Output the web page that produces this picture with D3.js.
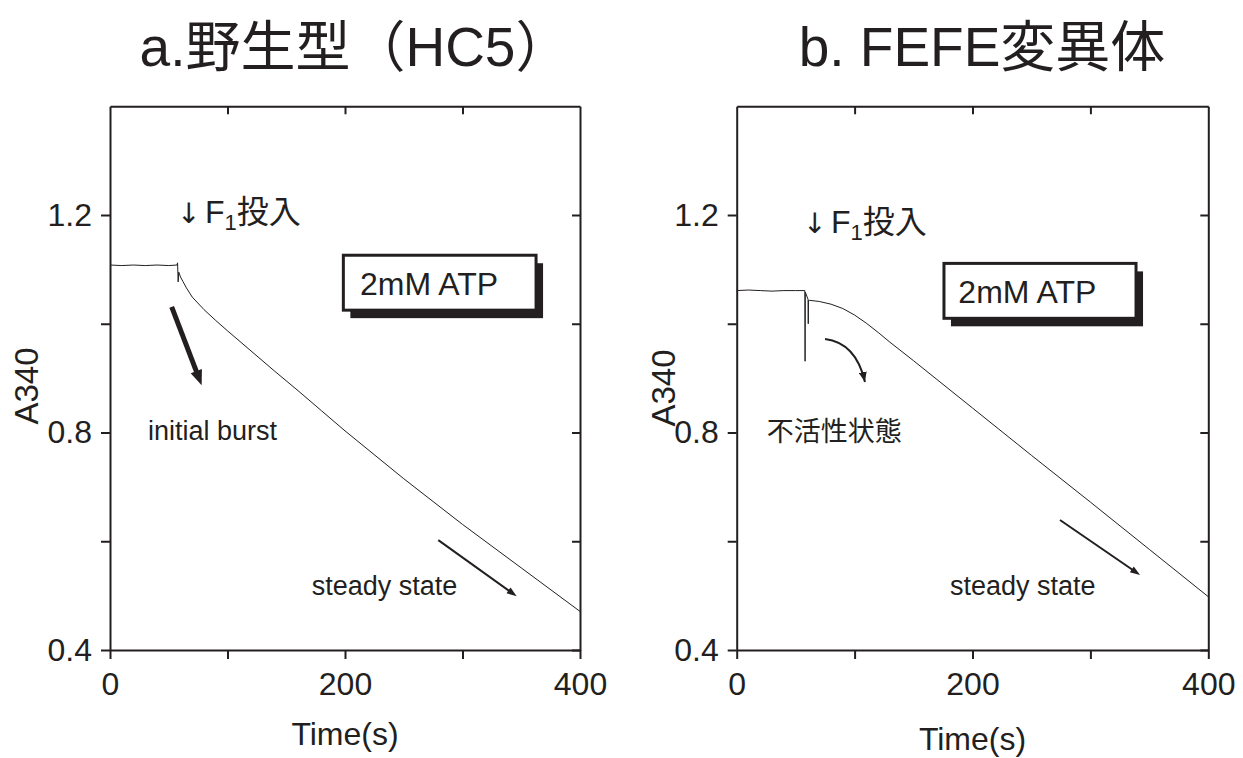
<!DOCTYPE html>
<html lang="ja">
<head>
<meta charset="UTF-8">
<script src="https://cdn.jsdelivr.net/npm/d3@7"></script>
<style>
  body { margin: 0; background: #fff; }
  svg text { font-family: "Liberation Sans", Arial, "Noto Sans CJK JP", sans-serif; fill: #231f20; }
  .axis path, .axis line { stroke: #231f20; stroke-width: 2; }
</style>
<title>A340</title>
</head>
<body>
<svg width="1243" height="758"></svg>
<script>
// a. wild type (HC5)
const timeWT = [0, 10, 20, 30, 40, 50, 57, 57.5, 58, 58.5, 60, 62, 65, 70, 80, 90, 100, 120, 140, 160, 180, 200, 250, 300, 350, 400];
const a340WT = [1.108, 1.107, 1.108, 1.107, 1.108, 1.107, 1.108, 1.112, 1.077, 1.095, 1.086, 1.078, 1.066, 1.049, 1.026, 1.006, 0.987, 0.950, 0.913, 0.877, 0.840, 0.803, 0.715, 0.631, 0.551, 0.471];

// b. FEFE mutant
const timeFEFE = [0, 10, 20, 30, 40, 50, 57.8, 58, 58.2, 60.5, 60.7, 60.9, 62, 70, 80, 90, 100, 110, 120, 130, 150, 200, 250, 300, 350, 400];
const a340FEFE = [1.061, 1.062, 1.061, 1.060, 1.061, 1.061, 1.061, 0.931, 1.058, 1.045, 1.000, 1.043, 1.043, 1.041, 1.036, 1.028, 1.016, 1.001, 0.984, 0.966, 0.932, 0.845, 0.758, 0.672, 0.585, 0.498];

const xTicks = [0, 100, 200, 300, 400];
const xTickLabels = [0, 200, 400];
const yTicks = [0.4, 0.6, 0.8, 1.0, 1.2];
const yTickLabels = [0.4, 0.8, 1.2];
const panelTitles = ['a.野生型（HC5）', 'b. FEFE変異体'];

const ink = '#231f20';
const svg = d3.select('svg');

// annotations, placed in data units (t, A340)
const panels = [
  {
    title: panelTitles[0], time: timeWT, a340: a340WT,
    left: 110, right: 580, titleX: 355, xTitleY: 745, yTitle: [37.5, 386],
    f1: [59.6, 1.185],
    box: [198.6, 362.6, 1.126, 1.025], boxText: [212.8, 1.053],
    arrows: [{ from: [52.5, 1.031], to: [78.0, 0.887], w: 5, hl: 15, hw: 12 },
             { from: [279.4, 0.602], to: [346.1, 0.499], w: 2, hl: 10, hw: 7 }],
    labels: [{ text: 'initial burst', at: [32.3, 0.786] }, { text: 'steady state', at: [171.7, 0.501] }]
  },
  {
    title: panelTitles[1], time: timeFEFE, a340: a340FEFE,
    left: 736.7, right: 1208.3, titleX: 982, xTitleY: 750, yTitle: [674.5, 388],
    f1: [58.8, 1.167],
    box: [175.8, 338.7, 1.111, 1.010], boxText: [188, 1.038],
    curve: { from: [74.9, 0.972], ctrl: [101.2, 0.965], to: [108.8, 0.893] },
    arrows: [{ from: [274.2, 0.639], to: [342.1, 0.538], w: 2, hl: 10, hw: 7 }],
    labels: [{ text: '不活性状態', at: [25.4, 0.784] }, { text: 'steady state', at: [180.9, 0.501] }]
  }
];

const plotTop = 106.25, plotBottom = 650;

svg.append('defs').append('marker')
  .attr('id', 'head').attr('markerUnits', 'userSpaceOnUse')
  .attr('viewBox', '0 0 10 8').attr('refX', 10).attr('refY', 4)
  .attr('markerWidth', 10).attr('markerHeight', 8).attr('orient', 'auto')
  .append('path').attr('d', 'M0,0L10,4L0,8Z').attr('fill', ink);

function drawArrow(g, x1, y1, x2, y2, w, hl, hw) {
  const ang = Math.atan2(y2 - y1, x2 - x1);
  const bx = x2 - hl * Math.cos(ang), by = y2 - hl * Math.sin(ang);
  g.append('line')
    .attr('x1', x1).attr('y1', y1)
    .attr('x2', x2 - hl * 0.7 * Math.cos(ang)).attr('y2', y2 - hl * 0.7 * Math.sin(ang))
    .attr('stroke', ink).attr('stroke-width', w);
  const px = -Math.sin(ang) * hw / 2, py = Math.cos(ang) * hw / 2;
  g.append('path')
    .attr('d', `M${x2},${y2}L${bx + px},${by + py}L${bx - px},${by - py}Z`)
    .attr('fill', ink);
}

panels.forEach(p => {
  const x = d3.scaleLinear().domain([0, 400]).range([p.left, p.right]);
  const y = d3.scaleLinear().domain([0.4, 1.4]).range([plotBottom, plotTop]);
  const g = svg.append('g');

  // title
  svg.append('text')
    .attr('x', p.titleX).attr('y', 66)
    .attr('text-anchor', 'middle').style('font-size', '55px')
    .text(p.title);

  // frame axes
  g.append('g').attr('class', 'axis')
    .attr('transform', `translate(0,${plotBottom})`)
    .call(d3.axisBottom(x).tickValues(xTicks).tickSize(9).tickSizeOuter(0).tickPadding(13)
      .tickFormat(d => xTickLabels.includes(d) ? d : ''));
  g.append('g').attr('class', 'axis')
    .attr('transform', `translate(0,${plotTop})`)
    .call(d3.axisTop(x).tickValues([100, 200, 300]).tickSize(-8).tickSizeOuter(0).tickFormat(''));
  g.append('g').attr('class', 'axis')
    .attr('transform', `translate(${p.left},0)`)
    .call(d3.axisLeft(y).tickValues(yTicks).tickSize(9).tickSizeOuter(0).tickPadding(9)
      .tickFormat(d => yTickLabels.some(v => Math.abs(v - d) < 1e-9) ? d3.format('.1f')(d) : ''));
  g.append('g').attr('class', 'axis')
    .attr('transform', `translate(${p.right},0)`)
    .call(d3.axisRight(y).tickValues(yTicks).tickSize(-8).tickSizeOuter(0).tickFormat(''));
  g.selectAll('.axis text').attr('font-family', null).style('font-size', '32px').attr('fill', ink);
  g.selectAll('.axis').attr('font-family', null).attr('font-size', null);

  // axis titles
  svg.append('text')
    .attr('x', (p.left + p.right) / 2).attr('y', p.xTitleY)
    .attr('text-anchor', 'middle').style('font-size', '32px')
    .text('Time(s)');
  svg.append('text')
    .attr('transform', `translate(${p.yTitle[0]},${p.yTitle[1]}) rotate(-90)`)
    .attr('text-anchor', 'middle').style('font-size', '33px')
    .text('A340');

  // trace
  const pts = p.time.map((t, i) => [t, p.a340[i]]);
  g.append('path')
    .datum(pts)
    .attr('fill', 'none').attr('stroke', ink).attr('stroke-width', 1)
    .attr('d', d3.line().x(d => x(d[0])).y(d => y(d[1])));

  // F1 addition marker
  const fx = x(p.f1[0]), fy = y(p.f1[1]);
  const f1 = g.append('text').attr('x', fx).attr('y', fy).style('font-size', '32px');
  f1.append('tspan').attr('x', fx - 3).style('font-family', '"DejaVu Sans", sans-serif').style('font-size', '28px').text('↓');
  f1.append('tspan').attr('x', fx + 25).text('F');
  f1.append('tspan').attr('dy', 7).style('font-size', '22px').text('1');
  f1.append('tspan').attr('dy', -7).text('投入');

  // 2mM ATP box with shadow
  const bx = x(p.box[0]), bw = x(p.box[1]) - bx;
  const by = y(p.box[2]), bh = y(p.box[3]) - by;
  g.append('rect').attr('x', bx + 7).attr('y', by + 8).attr('width', bw).attr('height', bh).attr('fill', ink);
  g.append('rect').attr('x', bx).attr('y', by).attr('width', bw).attr('height', bh)
    .attr('fill', '#fff').attr('stroke', ink).attr('stroke-width', 3);
  g.append('text')
    .attr('x', x(p.boxText[0])).attr('y', y(p.boxText[1]))
    .style('font-size', '32px').text('2mM ATP');

  // arrows
  p.arrows.forEach(a => drawArrow(g, x(a.from[0]), y(a.from[1]), x(a.to[0]), y(a.to[1]), a.w, a.hl, a.hw));
  if (p.curve) {
    const c = p.curve;
    g.append('path')
      .attr('d', `M${x(c.from[0])},${y(c.from[1])}Q${x(c.ctrl[0])},${y(c.ctrl[1])} ${x(c.to[0])},${y(c.to[1])}`)
      .attr('fill', 'none').attr('stroke', ink).attr('stroke-width', 2)
      .attr('marker-end', 'url(#head)');
  }

  // labels
  p.labels.forEach(l => {
    g.append('text')
      .attr('x', x(l.at[0])).attr('y', y(l.at[1]))
      .style('font-size', '27px').text(l.text);
  });
});
</script>
</body>
</html>
